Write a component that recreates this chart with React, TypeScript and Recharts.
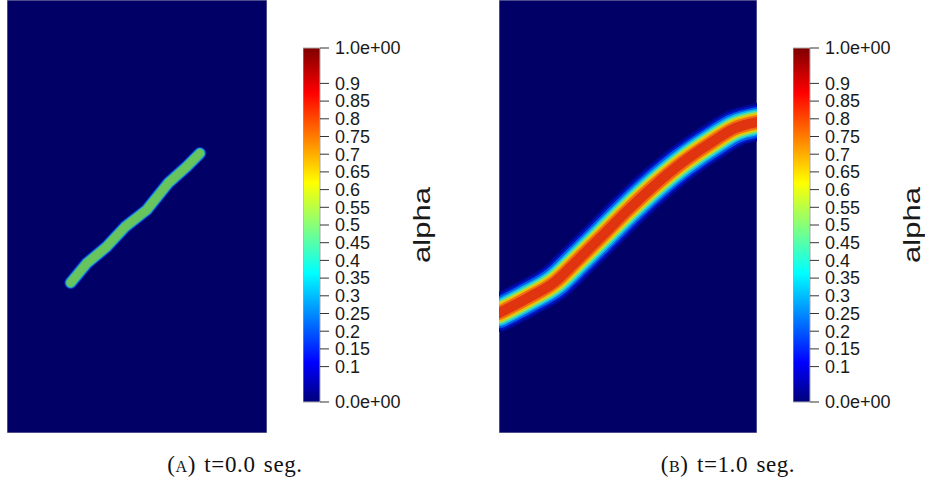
import React from 'react';
import { ComposedChart, Line, Bar, XAxis, YAxis, ReferenceArea } from 'recharts';

// centre line of the alpha band, panel units (0..1, y up)
const bandAx = [0.245, 0.307, 0.383, 0.454, 0.537, 0.62, 0.691, 0.742];
const bandAy = [0.347, 0.392, 0.43, 0.476, 0.515, 0.577, 0.615, 0.646];

const bandBx = [0, 0.112, 0.217, 0.306, 0.411, 0.5, 0.605, 0.709, 0.826, 0.915, 1];
const bandBy = [0.277, 0.312, 0.349, 0.4, 0.462, 0.515, 0.573, 0.624, 0.672, 0.704, 0.718];

// colour bar ticks
const alphaTicks = [0, 0.1, 0.15, 0.2, 0.25, 0.3, 0.35, 0.4, 0.45, 0.5, 0.55, 0.6, 0.65, 0.7, 0.75, 0.8, 0.85, 0.9, 1];

// jet colour map (value -> colour)
const jetValues = [1, 0.873, 0.619, 0.492, 0.365, 0.111, 0];
const jetColors = ['#7f0000', '#ff0000', '#ffff00', '#80ff80', '#00ffff', '#0000ff', '#00007a'];

// band drawn as stacked strokes, outer to inner
const layersA = [
  { w: 13, c: '#0a20b8' },
  { w: 11, c: '#1890d0' },
  { w: 9.5, c: '#40b8a0' },
  { w: 8, c: '#68c45c' },
];
const layersB = [
  { w: 38, c: '#000890' },
  { w: 34, c: '#0014c4' },
  { w: 30, c: '#0060ec' },
  { w: 26, c: '#10b4ec' },
  { w: 23, c: '#40dcc0' },
  { w: 20, c: '#b0dc40' },
  { w: 17, c: '#f0c000' },
  { w: 14, c: '#f07010' },
  { w: 10, c: '#e03410' },
];

const BG = '#000066';
const tickFont = { fill: '#1a1a1a', fontSize: 18, fontFamily: '"Liberation Sans", Arial, sans-serif' };

const fmtAlpha = (v: number) => (v === 0 ? '0.0e+00' : v === 1 ? '1.0e+00' : String(v));

interface Layer { w: number; c: string }

const FieldPanel = ({ xs, ys, layers, width, height, curve }: {
  xs: number[]; ys: number[]; layers: Layer[]; width: number; height: number; curve: 'linear' | 'monotone';
}) => {
  const data = xs.map((x, i) => ({ x, y: ys[i] }));
  return (
    <ComposedChart width={width} height={height} data={data} margin={{ top: 0, right: 0, bottom: 0, left: 0 }}>
      <XAxis type="number" dataKey="x" domain={[0, 1]} hide allowDataOverflow />
      <YAxis type="number" domain={[0, 1]} hide allowDataOverflow />
      <ReferenceArea x1={0} x2={1} y1={0} y2={1} fill={BG} fillOpacity={1} stroke="#9898b0" strokeWidth={1} />
      {layers.map((l, i) => (
        <Line
          key={i}
          dataKey="y"
          type={curve}
          stroke={l.c}
          strokeWidth={l.w}
          strokeLinecap="round"
          strokeLinejoin="round"
          dot={false}
          activeDot={false}
          isAnimationActive={false}
        />
      ))}
    </ComposedChart>
  );
};

const ColorBar = ({ id }: { id: string }) => (
  <ComposedChart
    width={107}
    height={374}
    data={[{ name: 'alpha', v: 1 }]}
    margin={{ top: 10, right: 0, bottom: 10, left: 0 }}
    barCategoryGap={0}
  >
    <defs>
      <linearGradient id={id} x1="0" y1="0" x2="0" y2="1">
        {jetValues.map((v, i) => (
          <stop key={i} offset={1 - v} stopColor={jetColors[i]} />
        ))}
      </linearGradient>
    </defs>
    <XAxis dataKey="name" hide />
    <YAxis
      orientation="right"
      domain={[0, 1]}
      ticks={alphaTicks}
      interval={0}
      width={90}
      tickSize={9}
      tickMargin={6}
      axisLine={false}
      tickLine={{ stroke: '#333' }}
      tick={tickFont}
      tickFormatter={fmtAlpha}
    />
    <Bar dataKey="v" fill={`url(#${id})`} stroke="#a8a8a8" strokeWidth={1} isAnimationActive={false} />
  </ComposedChart>
);

const captionStyle: React.CSSProperties = {
  position: 'absolute',
  width: 300,
  top: 453,
  textAlign: 'center',
  fontFamily: '"Liberation Serif", "Times New Roman", serif',
  fontSize: 23,
  lineHeight: '23px',
  letterSpacing: 0.6,
  wordSpacing: 2,
  color: '#111',
};

export default function App() {
  return (
    <div style={{ position: 'absolute', left: 0, top: 0, width: 925, height: 482, background: '#fff', overflow: 'hidden' }}>
      <div style={{ position: 'absolute', left: 7, top: 0 }}>
        <FieldPanel xs={bandAx} ys={bandAy} layers={layersA} width={260} height={433} curve="linear" />
      </div>
      <div style={{ position: 'absolute', left: 303, top: 38 }}>
        <ColorBar id="jetA" />
      </div>

      <div style={{ position: 'absolute', left: 499, top: 0 }}>
        <FieldPanel xs={bandBx} ys={bandBy} layers={layersB} width={258} height={433} curve="monotone" />
      </div>
      <div style={{ position: 'absolute', left: 793, top: 38 }}>
        <ColorBar id="jetB" />
      </div>

      <svg width={925} height={482} style={{ position: 'absolute', left: 0, top: 0, pointerEvents: 'none' }}>
        <text transform="translate(430,263) rotate(-90)" fontSize={24} fill="#1a1a1a"
          fontFamily='"Liberation Sans", Arial, sans-serif' textLength={76} lengthAdjust="spacingAndGlyphs">alpha</text>
        <text transform="translate(920,263) rotate(-90)" fontSize={24} fill="#1a1a1a"
          fontFamily='"Liberation Sans", Arial, sans-serif' textLength={76} lengthAdjust="spacingAndGlyphs">alpha</text>
      </svg>

      <div style={{ ...captionStyle, left: 235 - 150 }}>
        (<span style={{ fontVariant: 'small-caps' }}>a</span>) t=0.0 seg.
      </div>
      <div style={{ ...captionStyle, left: 728 - 150 }}>
        (<span style={{ fontVariant: 'small-caps' }}>b</span>) t=1.0 seg.
      </div>
    </div>
  );
}
